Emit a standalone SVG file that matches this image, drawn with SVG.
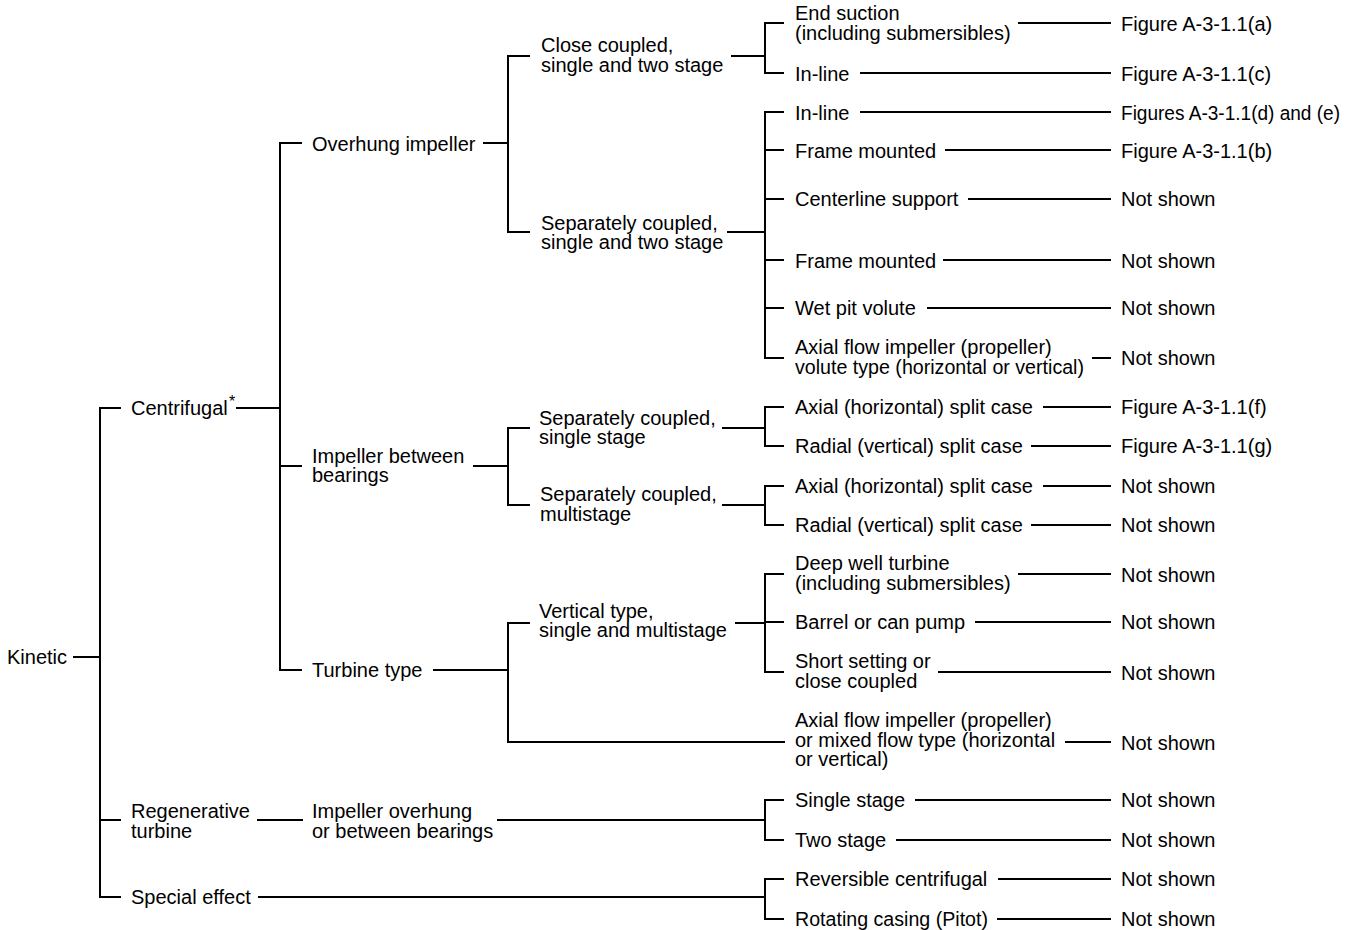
<svg xmlns="http://www.w3.org/2000/svg" width="1353" height="930" viewBox="0 0 1353 930">
<style>
text{font-family:"Liberation Sans",Arial,Helvetica,sans-serif;font-size:20px;fill:#000}
.ast{font-size:16px}
#connectors path{fill:none;stroke:#000;stroke-width:2;stroke-linejoin:miter}
</style>
<rect width="1353" height="930" fill="#fff"/>
<g id="connectors">
<!-- level 0 -->
<path d="M73,657 H100"/>
<path d="M121,408 H100 V897 H121 M100,820 H121"/>
<!-- centrifugal -->
<path d="M236,408 H280"/>
<path d="M302,143 H280 V670 H302 M280,466 H302"/>
<!-- overhung -->
<path d="M483,143 H508"/>
<path d="M530,56 H508 V232 H530"/>
<path d="M731,56 H765"/>
<path d="M784,23 H765 V73 H784"/>
<path d="M727,232 H765"/>
<path d="M784,112 H765 V358 H784 M765,150 H784 M765,199 H784 M765,260 H784 M765,308 H784"/>
<!-- impeller between bearings -->
<path d="M473,466 H508"/>
<path d="M530,428 H508 V505 H530"/>
<path d="M722,428 H765"/>
<path d="M784,407 H765 V446 H784"/>
<path d="M722,505 H765"/>
<path d="M784,486 H765 V525 H784"/>
<!-- turbine type -->
<path d="M433,670 H508"/>
<path d="M530,623 H508 V742 H785"/>
<path d="M735,623 H765"/>
<path d="M784,574 H765 V672 H784 M765,622 H784"/>
<!-- regenerative -->
<path d="M257,820 H303"/>
<path d="M497,820 H765"/>
<path d="M784,800 H765 V840 H784"/>
<!-- special effect -->
<path d="M258,897 H765"/>
<path d="M784,879 H765 V919 H784"/>
<!-- leaf to result lines -->
<path d="M1018,23 H1111 M860,73 H1111 M860,112 H1111 M945,150 H1111 M968,199 H1111 M943,260 H1111 M927,308 H1111 M1092,358 H1111 M1043,407 H1111 M1031,446 H1111 M1043,486 H1111 M1031,525 H1111 M1018,574 H1111 M975,622 H1111 M938,672 H1111 M1065,742 H1111 M915,800 H1111 M896,840 H1111 M998,879 H1111 M997,919 H1111"/>
</g>

<g id="n-kinetic"><text x="7" y="663.5">Kinetic</text></g>
<g id="n-centrifugal"><text x="131" y="415">Centrifugal</text><text class="ast" x="229" y="407">*</text></g>
<g id="n-regenerative"><text x="131" y="818">Regenerative</text><text x="131" y="837.5">turbine</text></g>
<g id="n-special"><text x="131" y="904">Special effect</text></g>

<g id="n-overhung"><text x="312" y="150.5">Overhung impeller</text></g>
<g id="n-between"><text x="312" y="462.5">Impeller between</text><text x="312" y="482">bearings</text></g>
<g id="n-turbine"><text x="312" y="676.5">Turbine type</text></g>
<g id="n-regen-imp"><text x="312" y="818">Impeller overhung</text><text x="312" y="837.5">or between bearings</text></g>

<g id="n-close"><text x="541" y="52">Close coupled,</text><text x="541" y="71.5">single and two stage</text></g>
<g id="n-sep2"><text x="541" y="229.5">Separately coupled,</text><text x="541" y="249">single and two stage</text></g>
<g id="n-sep-single"><text x="539" y="424.5">Separately coupled,</text><text x="539" y="444">single stage</text></g>
<g id="n-sep-multi"><text x="540" y="501">Separately coupled,</text><text x="540" y="520.5">multistage</text></g>
<g id="n-vertical"><text x="539" y="617.5">Vertical type,</text><text x="539" y="637">single and multistage</text></g>

<g id="n-endsuction"><text x="795" y="20">End suction</text><text x="795" y="39.5">(including submersibles)</text></g>
<g id="n-inline1"><text x="795" y="80.5">In-line</text></g>
<g id="n-inline2"><text x="795" y="119.5">In-line</text></g>
<g id="n-frame1"><text x="795" y="157.5">Frame mounted</text></g>
<g id="n-centerline"><text x="795" y="206">Centerline support</text></g>
<g id="n-frame2"><text x="795" y="267.5">Frame mounted</text></g>
<g id="n-wetpit"><text x="795" y="315">Wet pit volute</text></g>
<g id="n-axialvolute"><text x="795" y="354">Axial flow impeller (propeller)</text><text x="795" y="373.5" textLength="289" lengthAdjust="spacingAndGlyphs">volute type (horizontal or vertical)</text></g>
<g id="n-axial1"><text x="795" y="414">Axial (horizontal) split case</text></g>
<g id="n-radial1"><text x="795" y="453">Radial (vertical) split case</text></g>
<g id="n-axial2"><text x="795" y="493">Axial (horizontal) split case</text></g>
<g id="n-radial2"><text x="795" y="532">Radial (vertical) split case</text></g>
<g id="n-deepwell"><text x="795" y="570">Deep well turbine</text><text x="795" y="589.5">(including submersibles)</text></g>
<g id="n-barrel"><text x="795" y="629">Barrel or can pump</text></g>
<g id="n-short"><text x="795" y="668">Short setting or</text><text x="795" y="687.5">close coupled</text></g>
<g id="n-axialmixed"><text x="795" y="727">Axial flow impeller (propeller)</text><text x="795" y="746.5">or mixed flow type (horizontal</text><text x="795" y="766">or vertical)</text></g>
<g id="n-single"><text x="795" y="807">Single stage</text></g>
<g id="n-two"><text x="795" y="847">Two stage</text></g>
<g id="n-reversible"><text x="795" y="886">Reversible centrifugal</text></g>
<g id="n-rotating"><text x="795" y="926" textLength="193" lengthAdjust="spacingAndGlyphs">Rotating casing (Pitot)</text></g>

<g id="r-1"><text x="1121" y="30.5">Figure A-3-1.1(a)</text></g>
<g id="r-2"><text x="1121" y="80.5">Figure A-3-1.1(c)</text></g>
<g id="r-3"><text x="1121" y="119.5" textLength="219" lengthAdjust="spacingAndGlyphs">Figures A-3-1.1(d) and (e)</text></g>
<g id="r-4"><text x="1121" y="157.5">Figure A-3-1.1(b)</text></g>
<g id="r-5"><text x="1121" y="206">Not shown</text></g>
<g id="r-6"><text x="1121" y="267.5">Not shown</text></g>
<g id="r-7"><text x="1121" y="315">Not shown</text></g>
<g id="r-8"><text x="1121" y="365">Not shown</text></g>
<g id="r-9"><text x="1121" y="414">Figure A-3-1.1(f)</text></g>
<g id="r-10"><text x="1121" y="453">Figure A-3-1.1(g)</text></g>
<g id="r-11"><text x="1121" y="493">Not shown</text></g>
<g id="r-12"><text x="1121" y="532">Not shown</text></g>
<g id="r-13"><text x="1121" y="581.5">Not shown</text></g>
<g id="r-14"><text x="1121" y="629">Not shown</text></g>
<g id="r-15"><text x="1121" y="679.5">Not shown</text></g>
<g id="r-16"><text x="1121" y="749.5">Not shown</text></g>
<g id="r-17"><text x="1121" y="807">Not shown</text></g>
<g id="r-18"><text x="1121" y="847">Not shown</text></g>
<g id="r-19"><text x="1121" y="886">Not shown</text></g>
<g id="r-20"><text x="1121" y="926">Not shown</text></g>
</svg>
